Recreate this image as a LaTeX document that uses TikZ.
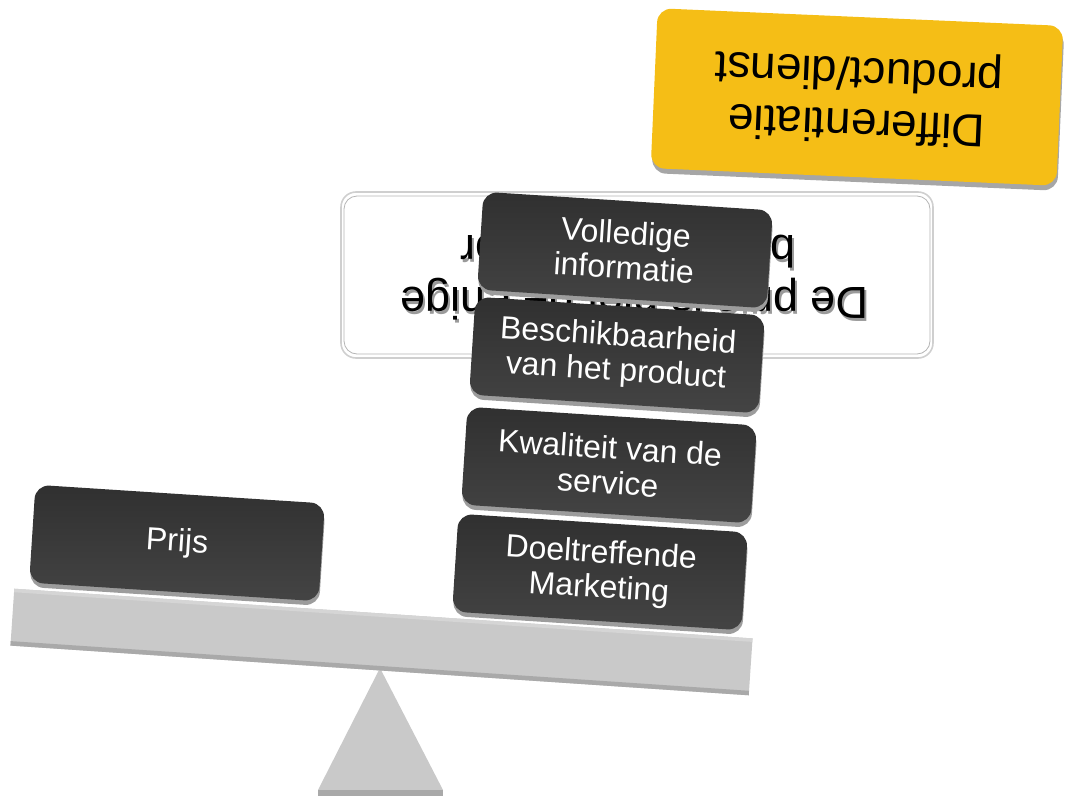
\documentclass[tikz,border=0pt]{standalone}
\usepackage{fontspec}
\setmainfont{Liberation Sans}
\definecolor{tileTop}{HTML}{303030}
\definecolor{tileBot}{HTML}{444444}
\definecolor{tileShadow}{HTML}{9C9C9C}
\definecolor{beamGray}{HTML}{C9C9C9}
\definecolor{beamDark}{HTML}{A9A9A9}
\definecolor{beamLight}{HTML}{D5D5D5}
\definecolor{goldFill}{HTML}{F5BE16}
\definecolor{goldShadow}{HTML}{A6A6A6}
\definecolor{frameOuter}{HTML}{CFCFCF}
\definecolor{frameInner}{HTML}{B5B5B5}
\definecolor{textShadow}{HTML}{9A9A9A}

\tikzset{
  tilebase/.style={rounded corners=14pt, minimum width=290pt, minimum height=98pt,
    rotate=-3.7, inner sep=0pt, draw=none},
  tile/.style={tilebase, top color=tileTop, bottom color=tileBot, text=white,
    align=center, font=\fontsize{32}{35}\selectfont},
  tileshadow/.style={tilebase, fill=tileShadow},
  goldbox/.style={rounded corners=14pt, minimum width=406pt, minimum height=160pt,
    rotate=-2.5, inner sep=0pt, draw=none},
  flipped/.style={align=center, inner sep=0pt, font=\fontsize{45}{52}\selectfont},
}

% a dark tile with its shadow strip underneath
\newcommand\weighttile[4]{%
  \node[tileshadow] (#1-sh) at (#2+0.5,#3+4.5) {};
  \node[tile] (#1) at (#2,#3) {#4};}

% statement text; the first line keeps its wrap space
\newcommand\stmttext{De prijs is niet de enige\hspace*{0.28em}\\bepalende factor}

\begin{document}
\begin{tikzpicture}[x=1pt,y=-1pt]
\useasboundingbox (0,0) rectangle (1066,798);

% fulcrum
\path[fill=beamGray] (380,668) coordinate (apex) -- (443,790) coordinate (baseR)
  -- (318,790) coordinate (baseL) -- cycle;
\fill[beamDark] (318,790) rectangle (443,796);

% beam
\begin{scope}[shift={(381.5,642)}, rotate=-3.85]
  \fill[beamGray] (-370,-28.5) rectangle (370,28.5);
  \fill[beamLight] (-370,-28.5) rectangle (370,-25);
  \fill[beamDark] (-370,24) rectangle (370,28.5);
\end{scope}

% statement frame
\draw[frameOuter, line width=1.6pt, rounded corners=15pt] (341,192) rectangle (933,358);
\draw[frameInner, line width=0.8pt, fill=white, rounded corners=13pt] (344,196) rectangle (930,354);
\node[flipped, rotate=180, text=textShadow] (stmt-sh) at (630,276) {\stmttext};
\node[flipped, rotate=180, text=black] (stmt) at (628,273) {\stmttext};

% left pan
\weighttile{prijs}{177}{543}{Prijs}

% right pan, stacked
\weighttile{marketing}{600}{572}{Doeltreffende\\Marketing}
\weighttile{service}{609}{465}{Kwaliteit van de\\service}
\weighttile{beschik}{617}{355}{Beschikbaarheid\\van het product}
\weighttile{info}{625}{250}{Volledige\\informatie}

% differentiation box
\node[goldbox, fill=goldShadow] (diff-sh) at (858,102) {};
\node[goldbox, fill=goldFill] (diff) at (857,97) {};
\node[flipped, rotate=177.5, font=\fontsize{46}{52}\selectfont] (diff-text) at (858,96)
  {Differentiatie\\product/dienst};
\end{tikzpicture}
\end{document}
